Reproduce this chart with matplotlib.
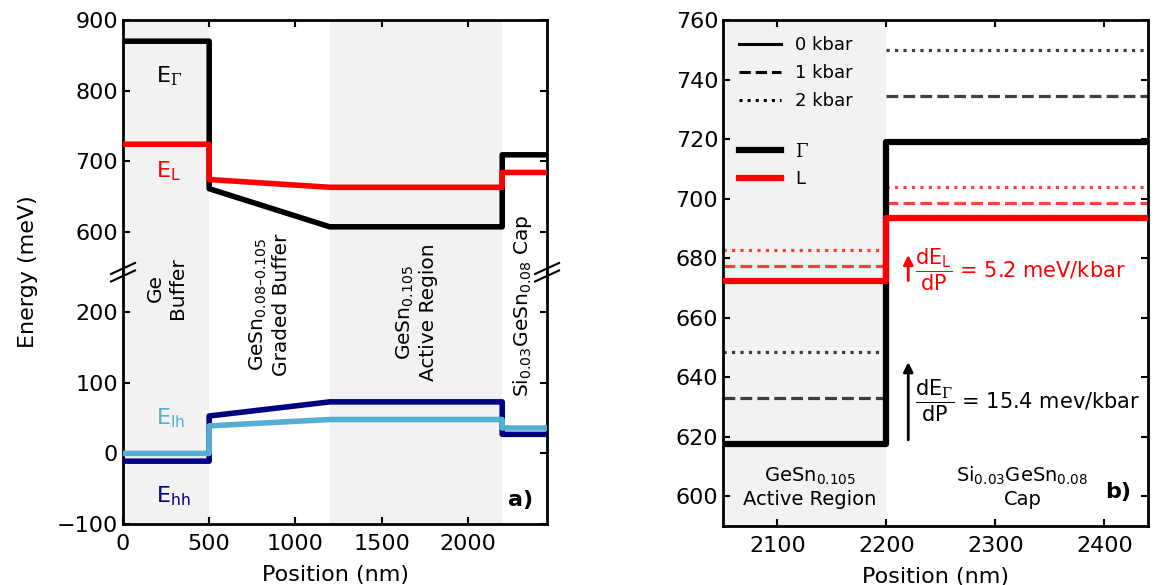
import numpy as np
import matplotlib.pyplot as plt
from matplotlib.lines import Line2D

plt.rcParams['font.family'] = 'DejaVu Sans'
plt.rcParams['axes.linewidth'] = 2
plt.rcParams['mathtext.fontset'] = 'custom'
plt.rcParams['mathtext.rm'] = 'DejaVu Sans'
plt.rcParams['mathtext.it'] = 'DejaVu Sans:italic'
plt.rcParams['mathtext.bf'] = 'DejaVu Sans:bold'
plt.rcParams['mathtext.sf'] = 'DejaVu Serif'

# ---- panel a) band edges along the structure ----
pos = [0, 500, 500, 1200, 2200, 2200, 2460]
E_gamma = [870, 870, 661, 607, 607, 709, 709]
E_L = [724, 724, 674, 663, 663, 684, 684]
E_hh = [-11, -11, 53, 73, 73, 27, 27]
E_lh = [0, 0, 39, 48, 48, 36, 36]

shade_a = [(0, 500), (1200, 2200)]

# ---- panel b) pressure dependence ----
pressures = ['0 kbar', '1 kbar', '2 kbar']
gamma_active = [617.5, 632.9, 648.3]
gamma_cap = [719.0, 734.4, 749.8]
L_active = [672.3, 677.5, 682.7]
L_cap = [693.4, 698.6, 703.8]
x_active = [2050, 2200]
x_cap = [2200, 2440]

navy = '#000080'
lblue = '#55aed2'
shade = '#f2f2f2'
styles = ['-', '--', ':']
G = r'\mathsf{\Gamma}'

fig = plt.figure(figsize=(11.57, 5.85), dpi=100)

L0, B0, W0, H0 = 0.1063, 0.1043, 0.3665, 0.8615
ax_b = fig.add_axes([L0, B0, W0, H0 / 2])
ax_t = fig.add_axes([L0, B0 + H0 / 2, W0, H0 / 2])
ax2 = fig.add_axes([0.6249, 0.1009, 0.3673, 0.8649])
# bottom axes drawn last so the rotated labels are not hidden
ax_b.set_zorder(2)
ax_b.patch.set_visible(False)

for ax in (ax_t, ax_b):
    for a, b in shade_a:
        ax.axvspan(a, b, color=shade, lw=0, zorder=0)
    ax.set_xlim(0, 2460)
    ax.set_xticks([0, 500, 1000, 1500, 2000])
    ax.tick_params(direction='in', length=5, width=1.5, labelsize=16,
                   left=True, right=True)
    ax.tick_params(axis='x', pad=7)

ax_t.plot(pos, E_gamma, color='k', lw=4, zorder=3)
ax_t.plot(pos, E_L, color='red', lw=4, zorder=4)
ax_t.set_ylim(543, 900)
ax_t.set_yticks([600, 700, 800, 900])
ax_t.tick_params(axis='x', bottom=False, top=True, labelbottom=False)
ax_t.spines['bottom'].set_visible(False)

ax_b.plot(pos, E_hh, color=navy, lw=4, zorder=3)
ax_b.plot(pos, E_lh, color=lblue, lw=4, zorder=4)
ax_b.set_ylim(-100, 257)
ax_b.set_yticks([-100, 0, 100, 200])
ax_b.tick_params(axis='x', top=False, bottom=True)
ax_b.spines['top'].set_visible(False)
ax_b.set_xlabel('Position (nm)', fontsize=16, labelpad=8)

# break marks
dx, dy, off_t, off_b = 12 / 424, 5.5 / 252, 3.5 / 252, 4 / 252
for xs in (0, 1):
    ax_t.plot([xs - dx, xs + dx], [off_t - dy, off_t + dy], color='k', lw=1.5,
              transform=ax_t.transAxes, clip_on=False)
    ax_b.plot([xs - dx, xs + dx], [1 - off_b - dy, 1 - off_b + dy], color='k', lw=1.5,
              transform=ax_b.transAxes, clip_on=False)

ax_t.text(190, 821, r'E$_{%s}$' % G, fontsize=16, color='k', va='center')
ax_t.text(190, 686, r'E$_\mathrm{L}$', fontsize=16, color='red', va='center')
ax_b.text(190, 50, r'E$_\mathrm{lh}$', fontsize=16, color=lblue, va='center')
ax_b.text(190, -61, r'E$_\mathrm{hh}$', fontsize=16, color=navy, va='center')

ax_b.text(250, 234, 'Ge\nBuffer', rotation=90, fontsize=14.5, ha='center', va='center', clip_on=False)
ax_b.text(850, 211, 'GeSn$_{0.08\u20130.105}$\nGraded Buffer', rotation=90, fontsize=14.5,
          ha='center', va='center', clip_on=False)
ax_b.text(1700, 200, 'GeSn$_{0.105}$\nActive Region', rotation=90, fontsize=14.5,
          ha='center', va='center', clip_on=False)
ax_b.text(2320, 209, 'Si$_{0.03}$GeSn$_{0.08}$ Cap', rotation=90, fontsize=14.5,
          ha='center', va='center', clip_on=False)
ax_b.text(0.967, 0.095, 'a)', transform=ax_b.transAxes, fontsize=16,
          fontweight='bold', ha='right', va='center')

fig.text(28 / 1157, 0.535, 'Energy (meV)', rotation=90, fontsize=16, ha='center', va='center')

# ---- panel b ----
ax2.axvspan(x_active[0], x_active[1], color=shade, lw=0, zorder=0)
for i in range(1, 3):
    ax2.plot(x_active, [gamma_active[i]] * 2, ls=styles[i], color='k', alpha=0.75, lw=2.3)
    ax2.plot(x_cap, [gamma_cap[i]] * 2, ls=styles[i], color='k', alpha=0.75, lw=2.3)
    ax2.plot(x_active, [L_active[i]] * 2, ls=styles[i], color='red', alpha=0.75, lw=2.3)
    ax2.plot(x_cap, [L_cap[i]] * 2, ls=styles[i], color='red', alpha=0.75, lw=2.3)
ax2.plot([x_active[0], x_active[1], x_cap[0], x_cap[1]],
         [gamma_active[0], gamma_active[0], gamma_cap[0], gamma_cap[0]], color='k', lw=4.5, zorder=3)
ax2.plot([x_active[0], x_active[1], x_cap[0], x_cap[1]],
         [L_active[0], L_active[0], L_cap[0], L_cap[0]], color='red', lw=4.5, zorder=4)

ax2.set_xlim(2050, 2440)
ax2.set_ylim(590, 760)
ax2.set_xticks([2100, 2200, 2300, 2400])
ax2.set_yticks(np.arange(600, 761, 20))
ax2.tick_params(direction='in', length=5, width=1.5, labelsize=16,
                top=True, right=True)
ax2.tick_params(axis='x', pad=7)
ax2.set_xlabel('Position (nm)', fontsize=16, labelpad=8)

h1 = [Line2D([], [], color='k', lw=2.2, ls=s) for s in styles]
leg1 = ax2.legend(h1, pressures, loc='upper left', bbox_to_anchor=(0.03, 0.975),
                  frameon=False, fontsize=13, handlelength=2.3, labelspacing=0.55,
                  borderaxespad=0, borderpad=0.2)
ax2.add_artist(leg1)
h2 = [Line2D([], [], color='k', lw=4.5), Line2D([], [], color='red', lw=4.5)]
ax2.legend(h2, [r'$%s$' % G, 'L'], loc='upper left', bbox_to_anchor=(0.03, 0.765),
           frameon=False, fontsize=13, handlelength=2.3, labelspacing=0.55,
           borderaxespad=0, borderpad=0.2)

ax2.annotate('', xy=(2220, 646), xytext=(2220, 618),
             arrowprops=dict(arrowstyle='-|>', color='k', lw=2, mutation_scale=14))
ax2.annotate('', xy=(2220, 682), xytext=(2220, 671.5),
             arrowprops=dict(arrowstyle='-|>', color='red', lw=2, mutation_scale=14))
ax2.text(2226, 632, r'$\dfrac{\mathrm{dE}_{%s}}{\mathrm{dP}}$ = 15.4 mev/kbar' % G,
         fontsize=15, va='center')
ax2.text(2226, 676, r'$\dfrac{\mathrm{dE}_\mathrm{L}}{\mathrm{dP}}$ = 5.2 meV/kbar',
         fontsize=15, va='center', color='red')

ax2.text(2130, 603, 'GeSn$_{0.105}$\nActive Region', fontsize=14, ha='center', va='center')
ax2.text(2325, 603, 'Si$_{0.03}$GeSn$_{0.08}$\nCap', fontsize=14, ha='center', va='center')
ax2.text(0.96, 0.068, 'b)', transform=ax2.transAxes, fontsize=16,
         fontweight='bold', ha='right', va='center')

fig.savefig('out.png', dpi=100)
